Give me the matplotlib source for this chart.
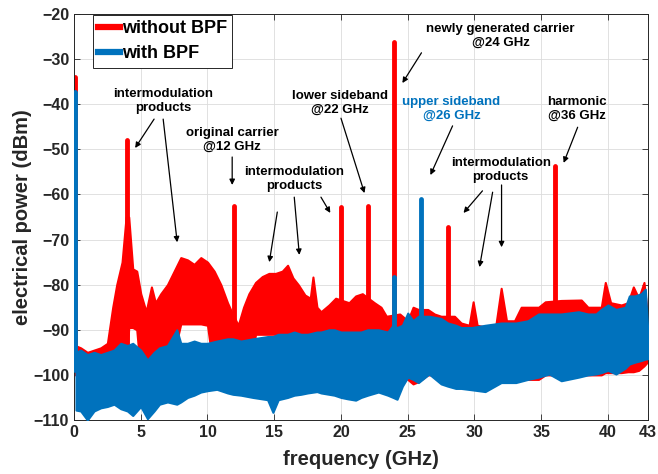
import matplotlib
matplotlib.use("Agg")
import matplotlib.pyplot as plt
from matplotlib.lines import Line2D

plt.rcParams['font.family'] = ['Liberation Sans', 'DejaVu Sans']
plt.rcParams['font.weight'] = 'bold'

RED = '#FF0000'
BLUE = '#0072BD'
DARK = '#262626'

# without BPF: upper / lower edge of the noise band (GHz, dBm)
red_freq = [0.1, 0.5, 1.0, 1.5, 2.0, 2.5, 2.9, 3.2, 3.6, 3.9, 4.1, 4.4, 4.7, 5.0,
            5.4, 5.8, 6.1, 6.5, 7.0, 7.5, 8.0, 8.5, 9.0, 9.5, 10.0, 10.5, 11.0,
            11.5, 11.8, 12.3, 12.7, 13.1, 13.6, 14.1, 14.6, 15.1, 15.6, 16.0,
            16.4, 16.8, 17.3, 17.7, 17.9, 18.2, 18.5, 19.1, 19.6, 20.6, 21.1,
            21.6, 22.5, 23.0, 23.4, 24.4, 25.0, 25.4, 25.8, 26.5, 27.0, 27.5,
            28.5, 29.0, 29.6, 29.9, 30.2, 31.0, 31.6, 32.0, 32.4, 33.0, 33.5,
            34.8, 35.3, 36.5, 38.0, 38.5, 39.5, 39.8, 40.2, 41.0, 41.5, 41.9,
            42.3, 42.7, 43.0]
red_top = [-93.5, -94, -95, -94.5, -94, -93, -85, -80, -75, -65, -65, -76.5, -77, -82,
           -86, -80.5, -84, -82, -80, -77, -74, -74.5, -75.5, -74, -75, -77, -80,
           -84, -86, -89, -85, -82, -79.5, -78.2, -77.5, -77.5, -77, -75.7,
           -78.5, -80, -82.3, -83, -78.3, -85, -86, -84.5, -83, -84, -82.5,
           -82, -84, -85, -87, -86.5, -88, -85, -85.5, -85.5, -86.5, -87,
           -87, -88.5, -89, -83.8, -89, -89.5, -89, -80.8, -88, -88, -85,
           -85, -83.8, -83.5, -83.4, -85, -85, -79.5, -84, -84.5, -84, -80.5,
           -83, -79.5, -88]
red_bottom = [-100, -100, -100, -100, -100, -100, -100, -100, -100, -100, -89.5, -89.5, -90, -100,
              -100, -100, -100, -100, -100, -95, -88.7, -88.7, -88.7, -88.7, -89, -100, -100,
              -100, -100, -100, -100, -100, -91, -91, -91, -91, -91, -100,
              -100, -100, -100, -100, -100, -100, -100, -100, -100, -100, -100,
              -100, -100, -100, -100, -100, -101, -102, -101.5, -100, -100, -101,
              -101, -101, -101, -101, -101, -101, -101, -101, -101, -101, -101,
              -101, -100, -100, -100, -100, -100, -99.5, -99.5, -99.5, -99.3, -99.3,
              -99, -98, -97]

# with BPF: upper / lower edge of the noise band
blue_freq = [0.15, 0.5, 1.0, 1.5, 2.0, 2.5, 3.0, 3.5, 4.0, 4.4, 5.0, 5.5, 6.0, 6.4,
             7.0, 7.7, 8.0, 8.5, 9.0, 9.5, 10.0, 10.7, 11.5, 11.9, 12.5, 13.4, 14.5,
             14.9, 15.3, 16.0, 16.5, 17.0, 17.5, 18.2, 18.5, 19.1, 19.5, 20.0, 20.5,
             21.1, 21.5, 22.0, 22.8, 23.5, 23.9, 24.2, 24.6, 25.0, 25.4, 25.8, 26.6,
             27.5, 28.0, 28.6, 29.0, 29.8, 30.8, 32.0, 33.1, 34.0, 34.8, 35.6,
             36.5, 37.8, 38.5, 39.1, 39.5, 40.0, 40.6, 41.3, 41.6, 42.0, 42.5,
             42.8, 43.0]
blue_top = [-95, -94.5, -95.5, -95, -95.5, -95, -94.5, -93, -93.5, -93, -94.5, -96.7, -95, -94,
            -93.5, -90, -93, -93, -92.5, -93, -93, -92.5, -92, -92, -92.5, -92, -91.5,
            -91.5, -91, -91, -90.5, -91, -91, -90.5, -90.5, -90, -90, -90.5, -90.5,
            -90.5, -90.5, -90, -90, -90.5, -89, -89.5, -89, -86.3, -88, -87, -87,
            -87.5, -88.5, -89, -89.5, -89.5, -89, -88.5, -88.5, -88, -86.5, -86.5,
            -86.5, -86, -86.5, -86.5, -85.5, -84.5, -85.5, -85, -82.5, -82.5, -82,
            -81, -91]
blue_bottom = [-107.8, -108, -110, -108, -107.3, -107, -106.5, -107.5, -108, -109, -107, -109.7, -108, -106.5,
               -106, -106.5, -106, -105, -104.5, -103.8, -103.5, -103.2, -104, -104.3, -104.5, -105, -105.5,
               -108.3, -105.5, -105, -104.5, -104.3, -104, -103.7, -104, -104.3, -104.5, -105, -105.3,
               -105.6, -105, -104.5, -103.8, -104.5, -105, -105.4, -102.5, -100.5, -101, -101.7, -99.8,
               -102, -102.5, -103, -103, -103.3, -103.7, -101.7, -101.7, -101, -100.5, -99.8,
               -101.3, -100.5, -100, -99.8, -99.5, -99, -99.8, -98.5, -97.6, -97.2, -96.8,
               -96.5, -96.4]

# discrete tones (GHz, peak dBm)
red_peak_freq = [0.1, 4.0, 12.0, 20.0, 22.0, 24.0, 28.0, 36.0]
red_peak_db = [-34, -48, -62.6, -62.8, -62.6, -26.3, -67.2, -53.7]
blue_peak_freq = [0.1, 24.0, 26.0]
blue_peak_db = [-37.3, -78.4, -61.0]

fig = plt.figure(figsize=(6.58, 4.74), dpi=100)
ax = fig.add_axes([74 / 658, 1 - 420 / 474, 574 / 658, 406 / 474])

ax.fill_between(red_freq, red_bottom, red_top, color=RED, lw=1.5, zorder=2)
ax.vlines(red_peak_freq, -97, red_peak_db, color=RED, lw=3.5, capstyle='round', zorder=2)
ax.fill_between(blue_freq, blue_bottom, blue_top, color=BLUE, lw=1.5, zorder=3)
ax.vlines(blue_peak_freq, -99, blue_peak_db, color=BLUE, lw=3.5, capstyle='round', zorder=3)

ax.set_xlim(0, 43)
ax.set_ylim(-110, -20)
ax.set_xticks([0, 5, 10, 15, 20, 25, 30, 35, 40, 43])
ax.set_yticks(range(-110, -19, 10))
ax.tick_params(direction='in', top=True, right=True, labelsize=11.5, colors=DARK,
               length=4, width=0.6)
for lab in ax.get_xticklabels() + ax.get_yticklabels():
    lab.set_fontweight('bold')
ax.grid(True, color='#dcdcdc', lw=0.6, zorder=0)
ax.set_axisbelow(True)
for s in ax.spines.values():
    s.set_color(DARK)
    s.set_linewidth(0.7)

ax.set_xlabel('frequency (GHz)', fontsize=14.5, fontweight='bold', color=DARK, labelpad=7)
ax.set_ylabel('electrical power (dBm)', fontsize=14.5, fontweight='bold', color=DARK, labelpad=1)

handles = [Line2D([], [], color=RED, lw=4.5), Line2D([], [], color=BLUE, lw=4.5)]
leg = ax.legend(handles, ['without BPF', 'with BPF'], loc='upper left',
                bbox_to_anchor=(0.033, 0.998), borderaxespad=0, fancybox=False,
                framealpha=1, edgecolor=DARK, fontsize=13, handlelength=1.2,
                handletextpad=0.1, borderpad=0.3, labelspacing=0.45)
leg.get_frame().set_linewidth(0.7)
for t in leg.get_texts():
    t.set_fontweight('bold')

arrow = dict(arrowstyle='-|>', color='black', lw=0.9, mutation_scale=8, shrinkA=0, shrinkB=0)
txt = dict(ha='center', va='center', fontsize=9.5, fontweight='bold', zorder=5)


def note(text, x, y, arrows, color='black'):
    ax.text(x, y, text, color=color, **txt)
    for (x0, y0, x1, y1) in arrows:
        ax.annotate('', xy=(x1, y1), xytext=(x0, y0), arrowprops=arrow, zorder=5)


note('intermodulation\nproducts', 6.71, -39.3,
     [(6.0, -43.3, 4.58, -49.7), (6.68, -43.3, 7.73, -70.6)])
note('original carrier\n@12 GHz', 11.85, -47.9, [(11.85, -51.7, 11.85, -57.9)])
note('intermodulation\nproducts', 16.47, -56.6,
     [(15.23, -63.9, 14.63, -75.0), (16.5, -60.6, 16.88, -73.4), (18.5, -60.6, 19.2, -64.1)])
note('lower sideband\n@22 GHz', 19.95, -39.6, [(20.0, -43.1, 21.76, -59.7)])
note('newly generated carrier\n@24 GHz', 31.96, -24.9, [(26.03, -28.6, 24.6, -35.3)])
note('upper sideband\n@26 GHz', 28.28, -41.0, [(28.36, -44.8, 26.7, -55.7)], color=BLUE)
note('harmonic\n@36 GHz', 37.66, -41.1, [(37.73, -45.1, 36.68, -53.0)])
note('intermodulation\nproducts', 31.96, -54.5,
     [(30.6, -59.2, 29.18, -64.1), (31.36, -59.5, 30.38, -76.1), (32.03, -57.9, 32.03, -71.7)])

fig.savefig('out.png', dpi=100)
